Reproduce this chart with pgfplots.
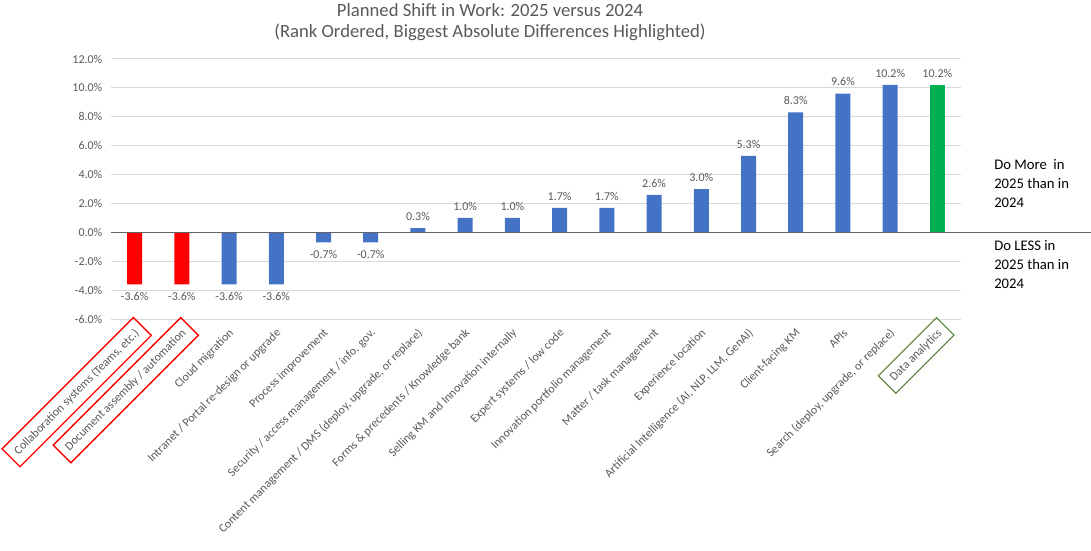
\documentclass[border=0pt]{standalone}
\usepackage{fontspec}
\setmainfont{Carlito}
\usepackage{pgfplots}
\pgfplotsset{compat=1.18}
\definecolor{txt}{RGB}{89,89,89}
\definecolor{gridc}{RGB}{217,217,217}
\definecolor{zeroc}{RGB}{100,100,100}
\definecolor{barblue}{RGB}{68,114,196}
\definecolor{barred}{RGB}{255,0,0}
\definecolor{bargreen}{RGB}{0,176,80}
\definecolor{boxgreen}{RGB}{84,130,53}
\newcommand\redbox[1]{\hspace*{-5.8pt}{\setlength\fboxsep{5pt}\setlength\fboxrule{1pt}\color{red}\fbox{\color{txt}#1}}\hspace*{-5.8pt}}
\newcommand\greenbox[1]{\hspace*{-5.8pt}{\setlength\fboxsep{5pt}\setlength\fboxrule{0.8pt}\color{boxgreen}\fbox{\color{txt}#1}}\hspace*{-5.8pt}}
\begin{document}
\begin{tikzpicture}
\useasboundingbox (0,0) rectangle (818.25pt,412.5pt);
\begin{axis}[
  at={(83.25pt,173.25pt)}, anchor=south west,
  scale only axis, width=637.5pt, height=195pt,
  ymin=-6, ymax=12, ytick={-6,-4,...,12},
  xmin=-0.5, xmax=17.5,
  xtick={0,...,17},
  xticklabels={
    {\redbox{Collaboration systems (Teams, etc.)}},
    {\redbox{Document assembly / automation}},
    {Cloud migration},
    {Intranet / Portal re-design or upgrade},
    {Process improvement},
    {Security / access management / info. gov.},
    {Content management / DMS (deploy, upgrade, or replace)},
    {Forms \& precedents / Knowledge bank},
    {Selling KM and Innovation internally},
    {Expert systems / low code},
    {Innovation portfolio management},
    {Matter / task management},
    {Experience location},
    {Artificial Intelligence (AI, NLP, LLM, GenAI)},
    {Client-facing KM},
    {APIs},
    {Search (deploy, upgrade, or replace)},
    {\greenbox{Data analytics}}},
  ybar, bar width=11.25pt,
  axis line style={draw=none},
  major tick length=0pt,
  ymajorgrids, grid style={draw=gridc, line width=0.75pt},
  /pgf/number format/assume math mode=true,
  yticklabel={\pgfmathprintnumber[fixed,fixed zerofill,precision=1]{\tick}\%},
  ticklabel style={font=\fontsize{9}{11}\selectfont, text=txt},
  yticklabel style={xshift=-3pt},
  xticklabel style={xshift=2.2pt, yshift=-9.2pt, rotate=45, anchor=east, inner sep=0pt},
  nodes near coords={\pgfmathprintnumber[fixed,fixed zerofill,precision=1]{\pgfplotspointmeta}\%},
  nodes near coords style={font=\fontsize{9}{11}\selectfont, text=txt, inner sep=5.5pt},
  clip=false,
]
\addplot[fill=barred, draw=none, bar shift=0pt] coordinates {(0,-3.6) (1,-3.6)};
\addplot[fill=barblue, draw=none, bar shift=0pt] coordinates {(2,-3.6) (3,-3.6) (4,-0.7) (5,-0.7) (6,0.3) (7,1.0) (8,1.0) (9,1.7) (10,1.7) (11,2.6) (12,3.0) (13,5.3) (14,8.3) (15,9.6) (16,10.2)};
\addplot[fill=bargreen, draw=none, bar shift=0pt] coordinates {(17,10.2)};
\coordinate (z0) at (axis cs:-0.5,0);
\end{axis}
\draw[draw=zeroc, line width=0.75pt] (z0) -- ++(735pt,0);
\node[font=\fontsize{14}{15.75}\selectfont, text=txt, align=center] at (367.5pt,395.6pt) {Planned Shift in Work: 2025 versus 2024\\(Rank Ordered, Biggest Absolute Differences Highlighted)};
\node[anchor=west, align=left, font=\fontsize{11}{14.25}\selectfont, inner sep=0pt] at (745.5pt,274.5pt) {Do More~ in\\2025 than in\\2024};
\node[anchor=west, align=left, font=\fontsize{11}{14.25}\selectfont, inner sep=0pt] at (745.5pt,213.75pt) {Do LESS in\\2025 than in\\2024};
\end{tikzpicture}
\end{document}
